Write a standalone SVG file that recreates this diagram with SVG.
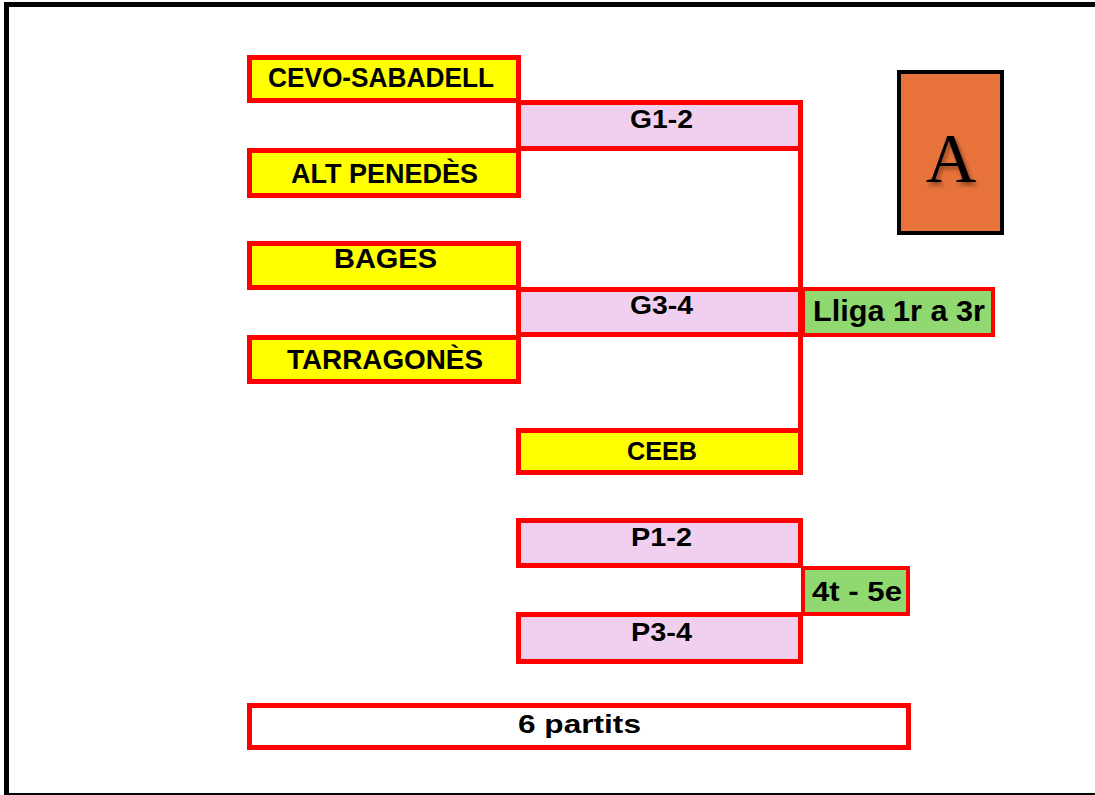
<svg xmlns="http://www.w3.org/2000/svg" width="1095" height="795" viewBox="0 0 1095 795">
<style>
.box{stroke:#ff0000;stroke-width:5}
.team{fill:#ffff00}
.game{fill:#f0d0ee}
.res{fill:#90d870;stroke-width:4}
.lbl{font-family:"Liberation Sans",Arial,sans-serif;font-weight:bold;font-size:26px;fill:#000;text-anchor:middle}
.big{font-size:28px}
.big2{font-size:30px}
.conn{stroke:#ff0000;stroke-width:5;fill:none}
</style>
<defs>
<filter id="sh" x="-20%" y="-20%" width="150%" height="150%">
<feDropShadow dx="2" dy="3" stdDeviation="2" flood-color="#000" flood-opacity="0.45"/>
</filter>
</defs>
<rect x="0" y="0" width="1095" height="795" fill="#fff"/>
<rect x="6.5" y="4.5" width="1095" height="791" fill="none" stroke="#000" stroke-width="5"/>

<g id="connectors">
<line class="conn" x1="800.5" y1="100" x2="800.5" y2="475"/>
</g>

<g id="cevo"><rect class="box team" x="249.5" y="57.5" width="269" height="43"/><text class="lbl big" x="381" y="87" textLength="226" lengthAdjust="spacingAndGlyphs">CEVO-SABADELL</text></g>
<g id="altpenedes"><rect class="box team" x="249.5" y="150.5" width="269" height="45"/><text class="lbl big" x="384.5" y="183" textLength="187" lengthAdjust="spacingAndGlyphs">ALT PENEDÈS</text></g>
<g id="g12"><rect class="box game" x="518.5" y="102.5" width="282" height="46"/><text class="lbl" x="661.5" y="127.5" textLength="63" lengthAdjust="spacingAndGlyphs">G1-2</text></g>
<g id="bages"><rect class="box team" x="249.5" y="243.5" width="269" height="44"/><text class="lbl big" x="385.5" y="268" textLength="103" lengthAdjust="spacingAndGlyphs">BAGES</text></g>
<g id="g34"><rect class="box game" x="518.5" y="289.5" width="282" height="45"/><text class="lbl" x="661.5" y="314" textLength="63" lengthAdjust="spacingAndGlyphs">G3-4</text></g>
<g id="tarragones"><rect class="box team" x="249.5" y="337.5" width="269" height="44"/><text class="lbl big" x="385" y="369" textLength="196" lengthAdjust="spacingAndGlyphs">TARRAGONÈS</text></g>
<g id="ceeb"><rect class="box team" x="518.5" y="430.5" width="282" height="42"/><text class="lbl" x="662" y="460" textLength="70" lengthAdjust="spacingAndGlyphs">CEEB</text></g>
<g id="lliga"><rect class="box res" x="803" y="289" width="190" height="46"/><text class="lbl big2" x="899" y="321" textLength="172" lengthAdjust="spacingAndGlyphs">Lliga 1r a 3r</text></g>
<g id="p12"><rect class="box game" x="518.5" y="520.5" width="282" height="45"/><text class="lbl" x="661.5" y="546" textLength="61" lengthAdjust="spacingAndGlyphs">P1-2</text></g>
<g id="p34"><rect class="box game" x="518.5" y="614.5" width="282" height="47"/><text class="lbl" x="661.5" y="641" textLength="61" lengthAdjust="spacingAndGlyphs">P3-4</text></g>
<g id="r45"><rect class="box res" x="803" y="568" width="105" height="46"/><text class="lbl big" x="857" y="601" textLength="90" lengthAdjust="spacingAndGlyphs">4t - 5e</text></g>
<g id="partits"><rect class="box" fill="#fff" x="249.5" y="705.5" width="659" height="42"/><text class="lbl" x="579.5" y="733" textLength="123" lengthAdjust="spacingAndGlyphs">6 partits</text></g>
<g id="groupA"><rect x="899" y="72" width="103" height="161" fill="#e8733a" stroke="#000" stroke-width="4"/><text x="951" y="182" font-family="Liberation Serif,'Times New Roman',serif" font-size="70" text-anchor="middle" fill="#000" filter="url(#sh)">A</text></g>
</svg>
